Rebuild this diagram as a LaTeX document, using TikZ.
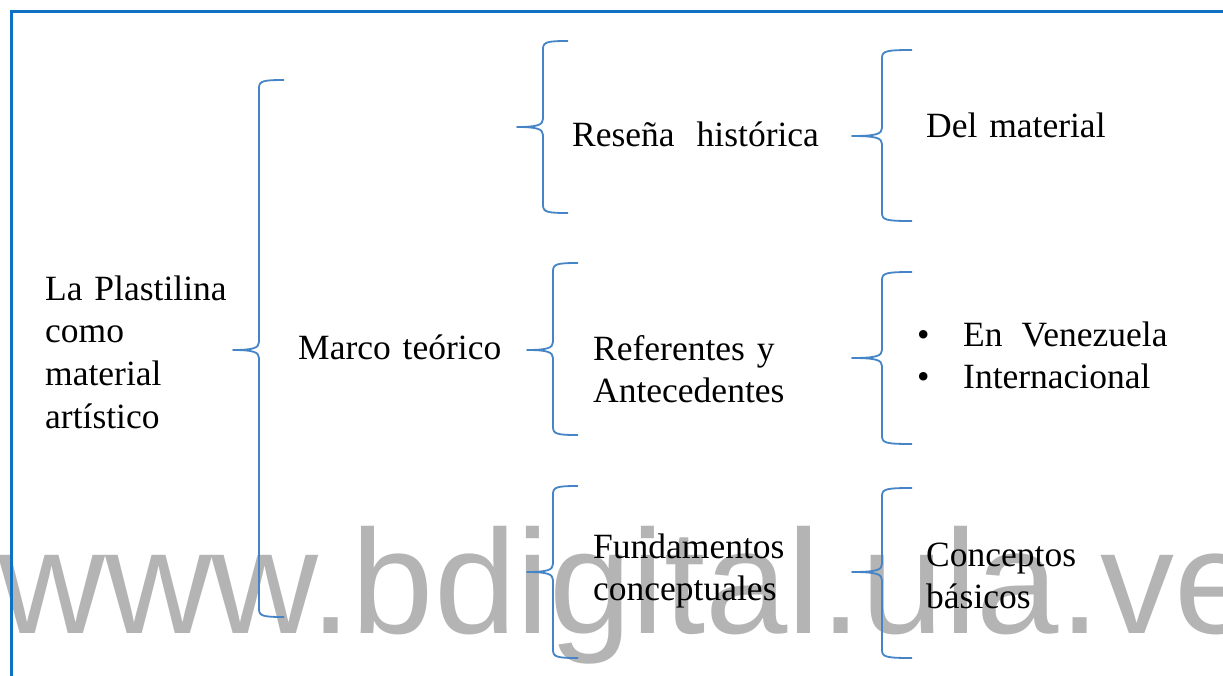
\documentclass[tikz,border=0pt]{standalone}
\usepackage{fontspec}
\setmainfont{Liberation Serif}
\newfontfamily\wmfont{Liberation Sans}
\usetikzlibrary{positioning}
\definecolor{frameblue}{RGB}{14,113,196}
\definecolor{braceblue}{RGB}{70,132,200}
\definecolor{wmgray}{RGB}{181,180,181}
% curly brace: spine x, top, middle, bottom, cusp x, tip x
\newcommand\curly[6]{%
  \draw[brace] (#6,#2) .. controls (#1+4,#2) and (#1,#2+1) .. (#1,#2+8)
    -- (#1,#3-8) .. controls (#1,#3-2) and (#1-6,#3) .. (#5,#3)
    .. controls (#1-6,#3) and (#1,#3+2) .. (#1,#3+8)
    -- (#1,#4-8) .. controls (#1,#4-1) and (#1+4,#4) .. (#6,#4);}

\begin{document}
\begin{tikzpicture}[x=1pt, y=-1pt,
  brace/.style={draw=braceblue, line width=1.8pt, line join=round},
  lbl/.style={anchor=base west, inner sep=0pt, align=left, text width=#1,
    font=\fontsize{35.5}{42.7}\selectfont},
  lbl/.default=260pt,
  wm/.style={anchor=base west, inner sep=0pt, text=wmgray,
    font=\wmfont\fontsize{148}{150}\selectfont}]
  \useasboundingbox (0,0) rectangle (1223,675);
  \node[wm] (wmark) at (-2,633) {www.bdigital.ula.ve};
  \draw[frameblue, line width=3pt] (11,680) -- (11,11) -- (1230,11);

  \node[lbl=200pt] (plast) at (45,300) {La Plastilina\\como\\material\\artístico};
  \node[lbl] (marco) at (298,359) {Marco teórico};
  \node[lbl] (resena) at (572,146) {Reseña\hspace{22pt}histórica};
  \node[lbl] (refer) at (593,360) {Referentes y\\Antecedentes};
  \node[lbl] (fund) at (593,558) {Fundamentos\\conceptuales};
  \node[lbl] (delmat) at (926,137) {Del material};
  \node[lbl=300pt] (lugares) at (917,346)
    {\makebox[46pt][l]{•}En\hspace{19pt}Venezuela\\\makebox[46pt][l]{•}Internacional};
  \node[lbl] (concep) at (926,566) {Conceptos\\básicos};

  \curly{259}{80}{350}{617}{233}{284}
  \curly{543}{41}{127}{213}{517}{568}
  \curly{553}{263}{350}{435}{527}{578}
  \curly{553}{486}{572}{658}{527}{578}
  \curly{882}{50}{136}{221}{852}{912}
  \curly{882}{272}{358}{444}{852}{912}
  \curly{882}{488}{572}{658}{852}{912}
\end{tikzpicture}
\end{document}
